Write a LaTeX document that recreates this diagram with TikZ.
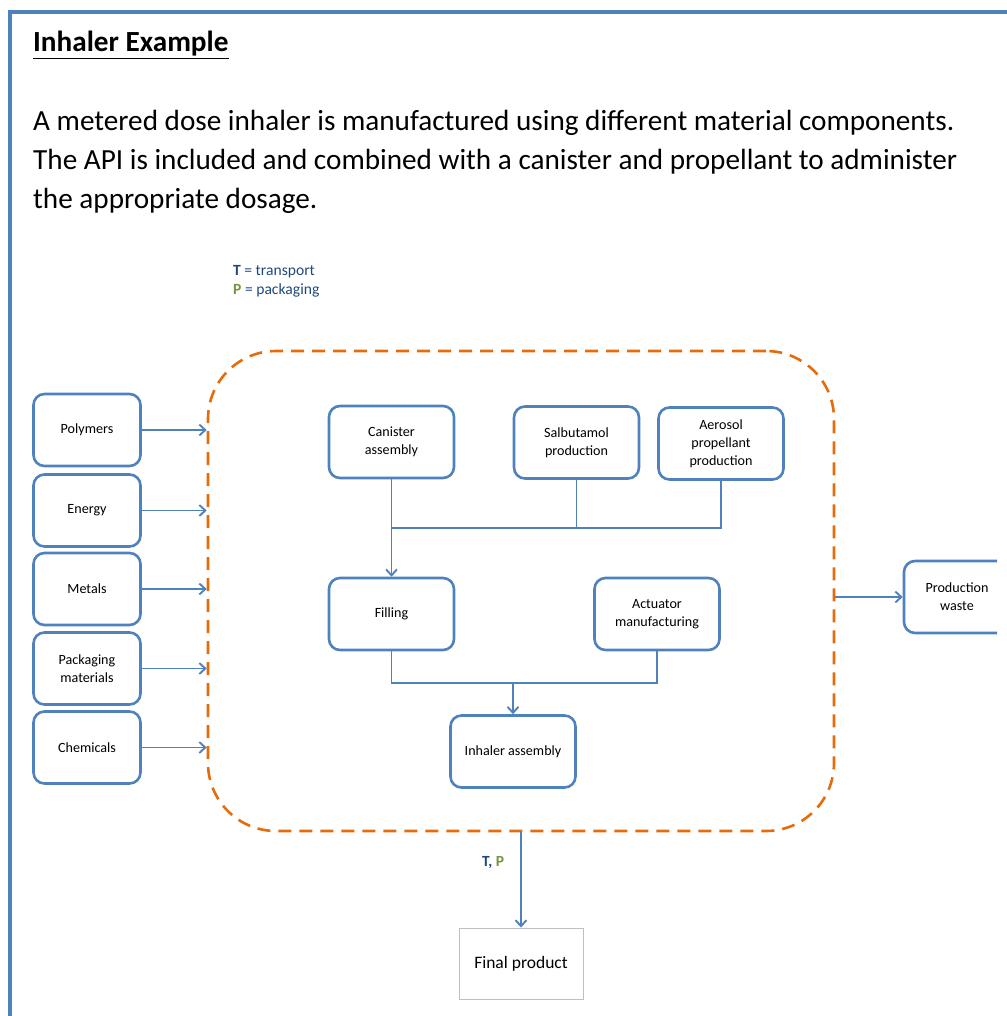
\documentclass[tikz,border=0pt]{standalone}
\usepackage{fontspec}
\setmainfont{Carlito}
\usetikzlibrary{arrows.meta}
\definecolor{frameblue}{HTML}{4F81BD}
\definecolor{darkblue}{HTML}{1F497D}
\definecolor{olivegreen}{HTML}{77933C}
\definecolor{sysorange}{HTML}{E46C0A}
\definecolor{boxgray}{HTML}{BFBFBF}
\tikzset{
  procbox/.style={draw=frameblue, line width=2.6pt, rounded corners=11pt, minimum width=107pt, minimum height=72pt, align=center, inner sep=0pt, font=\fontsize{14.1}{18}\selectfont},
  widebox/.style={procbox, minimum width=125pt},
  conn/.style={draw=frameblue, line width=1.9pt},
  arr/.style={conn, -{Straight Barb[length=6pt,width=11pt,line width=1.9pt]}},
  bodytext/.style={anchor=base west, inner sep=0pt, font=\fontsize{29.2}{39}\selectfont},
}
\begin{document}
\begin{tikzpicture}[x=1pt,y=-1pt]
\useasboundingbox (0,0) rectangle (1006,1016);
% outer frame
\draw[frameblue, line width=4.5pt] (10,1020) -- (10,12) -- (1010,12);
% heading and paragraph
\node[bodytext, font=\fontsize{29.2}{39}\selectfont\bfseries] (title) at (33,52) {\underline{Inhaler Example}};
\node[bodytext] (l1) at (33,131) {A metered dose inhaler is manufactured using different material components.};
\node[bodytext] (l2) at (33,170) {The API is included and combined with a canister and propellant to administer};
\node[bodytext] (l3) at (33,209) {the appropriate dosage.};
% legend
\node[anchor=base west, inner sep=0pt, font=\fontsize{15.6}{19}\selectfont, text=darkblue] (legT) at (233,275) {\textbf{T} = transport};
\node[anchor=base west, inner sep=0pt, font=\fontsize{15.6}{19}\selectfont, text=darkblue] (legP) at (233,294) {\textcolor{olivegreen}{\textbf{P}} = packaging};
% system boundary
\node[draw=sysorange, line width=2.6pt, dash pattern=on 13pt off 8pt, rounded corners=68pt, minimum width=626pt, minimum height=480pt, inner sep=0pt] (sys) at (521,591) {};
% inputs
\node[procbox] (poly) at (87,430) {Polymers};
\node[procbox] (ener) at (87,510.5) {Energy};
\node[procbox] (meta) at (87,589) {Metals};
\node[procbox] (pack) at (87,668.5) {Packaging\\materials};
\node[procbox] (chem) at (87,747.5) {Chemicals};
\foreach \n in {poly,ener,meta,pack,chem}
  \draw[arr] (\n.east) -- (\n.east -| sys.west);
% inner processes
\node[widebox] (can) at (391.5,442) {Canister\\assembly};
\node[widebox] (salb) at (576.5,442.5) {Salbutamol\\production};
\node[widebox] (aer) at (721,443.5) {Aerosol\\propellant\\production};
\node[widebox] (fill) at (391.5,614) {Filling};
\node[widebox] (act) at (657,614) {Actuator\\manufacturing};
\node[widebox] (inh) at (513,751.5) {Inhaler assembly};
\coordinate (j1) at (391.5,528);
\coordinate (j2) at (513,683);
\draw[arr] (can.south) -- (fill.north);
\draw[conn] (salb.south) |- (j1);
\draw[conn] (aer.south) |- (salb.south |- j1);
\draw[conn] (fill.south) |- (act.south |- j2) -- (act.south);
\draw[arr] (j2) -- (inh.north);
% output waste (clipped at the right)
\begin{scope}
\clip (0,0) rectangle (997,1016);
\node[procbox, minimum width=106pt] (waste) at (957,597) {Production\\waste};
\end{scope}
\draw[arr] (sys.east |- waste.west) -- (waste.west);
% final product
\node[draw=boxgray, line width=1pt, minimum width=124pt, minimum height=71pt, inner sep=0pt, font=\fontsize{17.5}{20}\selectfont] (fin) at (521,963.5) {Final product};
\draw[arr] (sys.south -| fin.north) -- (fin.north);
\node[font=\fontsize{15.5}{18}\selectfont\bfseries, inner sep=0pt] (tp) at (493,863) {\textcolor{darkblue}{T,} \textcolor{olivegreen}{P}};
\end{tikzpicture}
\end{document}
